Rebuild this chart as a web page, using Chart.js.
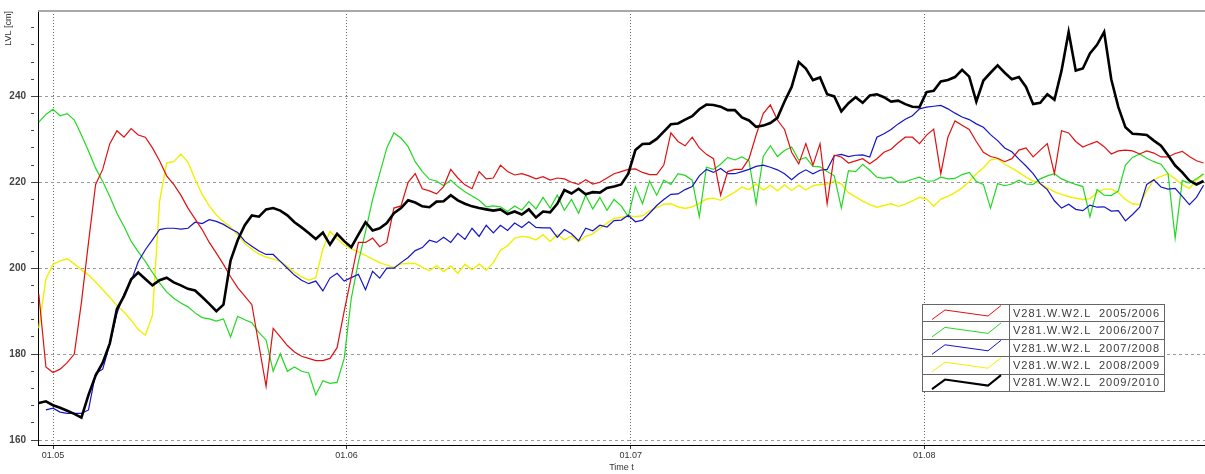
<!DOCTYPE html>
<html lang="de">
<head>
<meta charset="UTF-8">
<title>V281.W.W2.L LVL</title>
<script src="https://cdn.jsdelivr.net/npm/chart.js@4.4.0/dist/chart.umd.min.js"></script>
<style>
  html, body { margin: 0; padding: 0; background: #fff; }
  #wrap { width: 1205px; height: 474px; }
</style>
</head>
<body>
<div id="wrap"><canvas id="lvlChart" width="1205" height="474"></canvas></div>
<script>
// Zeitachse in Tagen ab 01.05, ein Messwert alle 18 Stunden
const startDay = -1.5;
const stepDay = 0.75;
const monthTicks = [0, 31, 61, 92];
const monthLabels = ['01.05', '01.06', '01.07', '01.08'];
const seriesNames = ['2005/2006', '2006/2007', '2007/2008', '2008/2009', '2009/2010'];
const sensor = 'V281.W.W2.L';

const lvl2005 = [
  194,177,175.7,176.5,178,180,192,206,219.5,223,
  229,232,230.5,232.5,231,230.5,228,225,221.5,219.5,
  217,214,211.5,209,206,203.5,200.9,198,195.5,193.5,
  191.5,182,172.5,186,184,182,180.5,179.5,179,178.5,
  178.5,179,181.5,190,198,206,206,207,205,206,
  214,214.5,220,222,218.5,218,217.3,219,223,221,
  219.4,218.5,222.5,220.8,221,224,222.5,221.7,222,221.5,
  220.8,221.3,220.5,221,220.8,220,219.5,220.6,219.6,220,
  221,222,222.5,223,223.1,222.3,221.8,221.8,224,231.5,
  229.5,228.5,230.5,228,226.5,225.5,217,222.5,223,223,
  225.5,231,236,238,234.5,232.3,227,224.3,229,224,
  229,215,226.3,225.9,224.5,225,225.5,224.3,225.5,227,
  227.7,229.2,230.5,230.5,229,231,232.4,222,230.5,234.3,
  233.3,232.3,229.5,227,226,225.6,224.8,225.5,227.5,228,
  225.9,227.5,229,222,232,231.5,229.5,228.2,228.9,229.5,
  228.3,226.6,227.3,227.5,227.3,226.6,227.3,226.8,225.9,225.9,
  226.7,227.2,226,225,224.5
];
const lvl2006 = [
  234,235.8,237,235.5,236,234.5,231,227.3,223.3,220.2,
  216.7,212.8,209.7,206.3,203.8,201.6,199,196.6,194.5,193,
  191.9,191,189.6,188.5,188.2,187.7,188.2,184,188.8,188,
  187.3,185,183.3,176,180.1,176,177,176,175.6,170.5,
  173.8,173.2,173.4,179,193,201.5,208.5,216,222,228,
  231.5,230.3,228.3,224.8,222.5,220.7,220.3,219.2,220.5,219,
  217.8,216.8,215.8,214.3,214.5,214.3,213.2,214.5,213.5,215.5,
  213.8,216.5,214,217,213.5,216,212.8,217,213.8,216.5,
  213.5,216,214.5,212,219,215,220.3,217,220.5,219.5,
  222,221.6,220.5,212,223.5,223,224.2,225.8,225.2,225.9,
  225,215,226,228.5,226,227.4,228.2,225.2,225.8,223.7,
  223.6,222.5,221.5,214,222.7,222.5,224.2,222.8,221.2,220.9,
  221.2,220,220.1,220.7,221.2,220.3,220.3,221.2,220.8,220.9,
  221.8,222.3,220.2,219.5,214,219.7,219.2,219.6,220.5,219.6,
  219.5,220.8,221.5,222,220.8,220.1,219.5,219,212,218.3,
  217,216.9,218,224,225.8,226.6,225.6,224.8,224.2,222,
  207,220.4,219.8,220.8,222
];
const lvl2007 = [
  null,167,167.4,166.5,166.2,166.2,166.2,167,175.5,176.5,
  182.4,189.5,194,197,201.5,204.3,206.6,209,209.3,209.3,
  209.1,209.3,210.7,210.4,211.3,210.9,210.2,209.2,208.3,206.3,
  205.1,204,203.2,203.2,201.6,200,198.4,197.2,196.4,197,
  194.7,197.7,198.8,197,197.8,198.6,195,199.3,197.7,200,
  200,201.3,202.5,204.1,204.8,206.5,206,207.2,206,208.1,
  206.7,209.3,207.4,210,208.2,210,208.8,210.5,209.5,210.8,
  209.5,209.4,209.4,207.2,209,208,206.4,209.3,208.7,210,
  209.6,211.1,211.2,212.3,210.8,211.2,212.8,214.6,216,217.2,
  217.3,218.3,219,221.5,223,222.3,223.2,222,222,222.5,
  223,223.7,224,223.5,222.9,222,220.6,222,222.9,222,
  222.8,223,226.2,226.5,226,226.3,226.4,225.9,230.5,231.3,
  232.3,233.6,234.7,235.5,237.1,237.5,237.7,237.9,237.1,236.1,
  235.2,234.6,233.6,232.8,231.1,229.7,228,227.1,225.4,223.8,
  222,219.7,218.3,215.7,214,214.9,213.7,213.4,214.7,214.2,
  214.3,213.3,213.4,211,212.5,214.2,219.5,220.6,218.9,218.4,
  218.6,216.7,214.8,216.5,219.3
];
const lvl2008 = [
  186,197.5,200.9,201.7,202.2,201,199.6,198.4,196.8,195,
  193.2,191.3,189.8,187.9,185.7,184.4,189,215.5,224.5,224.8,
  226.6,224.7,220.7,217.2,214.5,212.4,210.8,209.6,207.7,205.8,
  204.4,203.3,202.6,202.1,201.6,200.4,199.1,198,197.2,197.8,
  204.5,208.6,206.9,205.4,204.5,203.8,203,202.1,201.3,200.7,
  200.2,201,201.1,201.1,200.2,199.4,200.6,199.2,200.5,198.8,
  200.9,199.6,201,199.5,201.3,204.2,205.2,207,207.4,207.2,
  206.6,207.8,206.2,207.9,206.6,207.5,206.2,207.4,208,209.3,
  210.5,211.6,211.8,212.2,212,212.2,213.3,214.1,214.9,215,
  214.3,213.9,214.3,215.1,216.1,216.3,215.8,216.8,217.7,218.9,
  218.3,219.6,218.2,219.3,218,219.4,218.1,219.3,218.2,219.2,
  219.5,219.6,220.3,219.6,217.6,216.6,215.6,214.8,214.2,214.6,
  215,214.4,214.9,215.7,216.5,216.1,214.4,216.1,216.7,217.6,
  218.7,220.2,222,223.4,225.2,225.5,224.2,223.3,222.3,221.2,
  220.3,219.7,218.7,217.8,217.2,216.7,216.3,216,216.2,217.6,
  218.4,218.4,217.6,216,215,214.8,218,220.6,221.4,222,
  220.8,219.4,218.6,220.5,221.8
];
const lvl2009 = [
  168.6,169,168.1,167.5,166.8,166.1,165.2,170.5,175,178,
  182.5,190.5,193.5,197.4,199,197.5,196,197.2,197.8,196.7,
  196,195.2,194.8,193.3,191.7,190,191.5,201.8,206.5,210,
  212.3,212,213.7,214,213.4,212.3,210.7,209.5,208.2,206.8,
  208.3,205.5,208,206.3,204.9,207.8,210.7,208.8,209.3,210.5,
  212.8,214,215.8,215.3,214.4,214.2,215.5,215.6,217,215.8,
  215,214.4,214,213.7,213.4,213.7,212.6,213.2,212.5,213.7,
  211.8,213.2,213,215,218.2,217.4,218.5,217.2,217.7,217.6,
  218.7,219,219.5,222,227.5,228.9,229,230.1,231.8,233.5,
  233.7,234.6,235.4,237,238.1,238,237.6,236.8,236.8,235.1,
  234.4,232.9,233.2,233.8,235,238.8,242.2,248,246.5,243.8,
  244.4,240.5,240,236.5,238.4,239.8,238.5,240.2,240.5,239.8,
  238.8,239,238.2,237.6,237.5,241,241.3,243.5,243.8,244.5,
  246.2,244.6,238.8,243.7,245.5,247.2,245.5,244,244.5,242.2,
  238.2,238.5,240.5,239.2,246,255,246,246.5,250,252,
  255,244,237.5,232.8,231.3,231.2,231,229.7,228.5,226.3,
  223.9,222.3,220.4,219.5,220.3
];

const lineColors = ['#e01010', '#22d822', '#1414c8', '#f0f000', '#000000'];
const lineWidths = [1.2, 1.2, 1.2, 1.4, 2.6];
const drawOrder = [1, 3, 2, 4, 0];

function toPoints(vals) {
  return vals.map((v, i) => ({ x: startDay + i * stepDay, y: v }));
}

const allSeries = [lvl2005, lvl2006, lvl2007, lvl2008, lvl2009];

const datasets = allSeries.map((vals, k) => ({
  label: sensor + '  ' + seriesNames[k],
  data: toPoints(vals),
  borderColor: lineColors[k],
  borderWidth: lineWidths[k],
  pointRadius: 0,
  tension: 0,
  order: drawOrder[k]
}));

// obere graue Rahmenlinie
const topFrame = {
  id: 'topFrame',
  afterDraw(chart) {
    const { ctx, chartArea } = chart;
    ctx.save();
    ctx.strokeStyle = '#a8a8a8';
    ctx.lineWidth = 2;
    ctx.beginPath();
    ctx.moveTo(chartArea.left, chartArea.top);
    ctx.lineTo(chartArea.right, chartArea.top);
    ctx.stroke();
    ctx.restore();
  }
};

// Legende als Tabelle unten rechts
const tableLegend = {
  id: 'tableLegend',
  afterDraw(chart) {
    const ctx = chart.ctx;
    const x0 = 922, y0 = 304, w = 242, rowH = 17.4, split = 87;
    const sets = chart.data.datasets;
    const h = rowH * sets.length;
    ctx.save();
    ctx.fillStyle = '#fff';
    ctx.fillRect(x0, y0, w, h);
    ctx.strokeStyle = '#666';
    ctx.lineWidth = 1;
    ctx.strokeRect(x0 + 0.5, y0 + 0.5, w, h);
    ctx.beginPath();
    ctx.moveTo(x0 + split + 0.5, y0);
    ctx.lineTo(x0 + split + 0.5, y0 + h);
    for (let r = 1; r < sets.length; r++) {
      const yy = Math.round(y0 + r * rowH) + 0.5;
      ctx.moveTo(x0, yy);
      ctx.lineTo(x0 + w, yy);
    }
    ctx.stroke();

    ctx.font = '11px Arial, "Liberation Sans", sans-serif';
    ctx.textBaseline = 'middle';
    sets.forEach((ds, r) => {
      const ry = y0 + r * rowH;
      ctx.strokeStyle = ds.borderColor;
      ctx.lineWidth = ds.borderWidth > 2 ? 2 : 1;
      ctx.beginPath();
      ctx.moveTo(x0 + 10, ry + 15.5);
      ctx.lineTo(x0 + 23, ry + 6);
      ctx.lineTo(x0 + 66, ry + 12);
      ctx.lineTo(x0 + 79, ry + 1.5);
      ctx.stroke();
      ctx.fillStyle = '#3a3a3a';
      ctx.letterSpacing = '1px';
      ctx.fillText(sensor, x0 + 91, ry + rowH / 2 + 1);
      ctx.fillText(seriesNames[r], x0 + 177, ry + rowH / 2 + 1);
    });
    ctx.restore();
  }
};

function isMajor(ctx) {
  return ctx.tick && Math.round(ctx.tick.value) % 20 === 0;
}

Chart.defaults.font.family = 'Arial, "Liberation Sans", sans-serif';

new Chart(document.getElementById('lvlChart'), {
  type: 'line',
  data: { datasets },
  options: {
    responsive: false,
    animation: false,
    layout: { padding: { top: 8, right: 0, left: 0, bottom: 0 } },
    plugins: {
      legend: { display: false },
      tooltip: { enabled: false }
    },
    scales: {
      x: {
        type: 'linear',
        min: -1.584,
        max: 121.65,
        afterBuildTicks(scale) {
          scale.ticks = monthTicks.map(v => ({ value: v }));
        },
        afterFit(scale) { scale.height = 29; },
        ticks: {
          autoSkip: false,
          maxRotation: 0,
          padding: 1,
          color: '#333',
          font: { size: 9 },
          callback: v => monthLabels[monthTicks.indexOf(v)]
        },
        grid: {
          color: '#6a6a6a',
          lineWidth: 1,
          tickLength: 4,
          tickColor: '#333'
        },
        border: { display: true, color: '#000', width: 1, dash: [1, 2] },
        title: {
          display: true,
          text: 'Time t',
          color: '#333',
          font: { size: 9 },
          padding: { top: 0, bottom: 1 }
        }
      },
      y: {
        min: 158.84,
        max: 259.88,
        afterFit(scale) { scale.width = 38; },
        ticks: {
          stepSize: 4,
          includeBounds: false,
          autoSkip: false,
          padding: 5,
          color: '#444',
          font: { size: 10, weight: 'bold' },
          callback: v => (Math.round(v) % 20 === 0 ? String(Math.round(v)) : '')
        },
        grid: {
          color: ctx => (isMajor(ctx) ? '#9a9a9a' : 'rgba(0,0,0,0)'),
          lineWidth: 1,
          tickLength: 7,
          tickColor: '#444',
          tickBorderDash: ctx => (isMajor(ctx) ? [] : [3, 100])
        },
        border: { display: true, color: '#000', width: 1, dash: [3, 3] },
        title: {
          display: true,
          text: 'LVL [cm]',
          align: 'end',
          color: '#333',
          font: { size: 9 },
          padding: { top: 3, bottom: 0 }
        }
      }
    }
  },
  plugins: [topFrame, tableLegend]
});
</script>
</body>
</html>
